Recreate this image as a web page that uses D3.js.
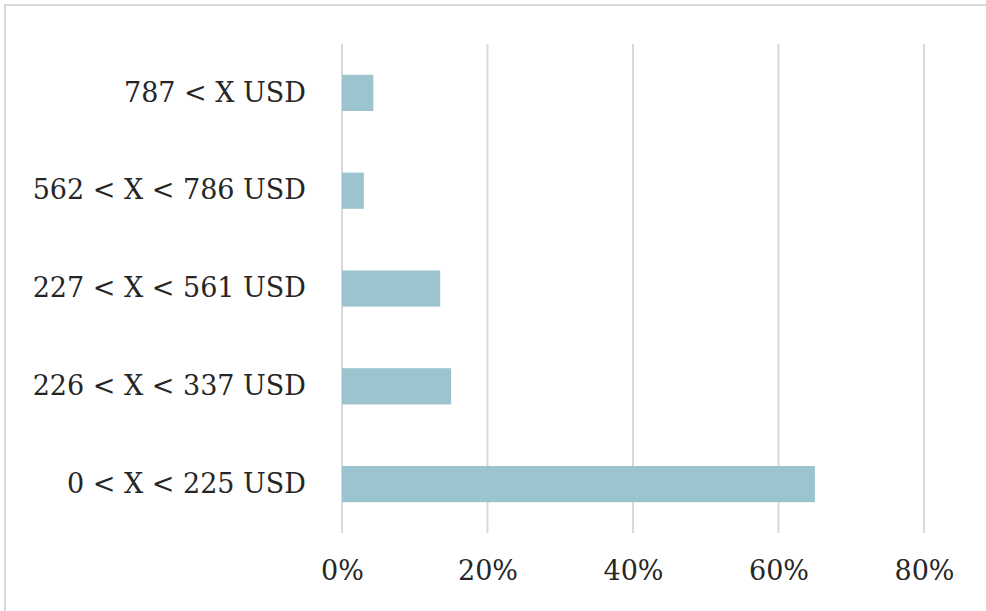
<!DOCTYPE html>
<html>
<head>
<meta charset="utf-8">
<script src="https://cdn.jsdelivr.net/npm/d3@7"></script>
<style>
  html, body { margin: 0; padding: 0; background: #ffffff; }
  svg { display: block; }
  text { font-family: "DejaVu Serif", "Liberation Serif", serif; fill: #262626; }
</style>
</head>
<body>
<svg id="chart" width="986" height="611"></svg>
<script>
// Income brackets, listed top to bottom
const categories = ["787 < X USD", "562 < X < 786 USD", "227 < X < 561 USD", "226 < X < 337 USD", "0 < X < 225 USD"];
// Share of respondents in each bracket (%)
const shares = [4.3, 3.0, 13.5, 15.0, 65.0];
// Horizontal axis ticks (%)
const tickValues = [0, 20, 40, 60, 80];

const svg = d3.select("#chart");
const W = 986, H = 611;
const labelFont = "'DejaVu Serif', 'Liberation Serif', serif";

// Outer frame
svg.append("rect")
  .attr("x", 5).attr("y", 5)
  .attr("width", W + 10).attr("height", H + 10)
  .attr("fill", "#ffffff")
  .attr("stroke", "#d9d9d9")
  .attr("stroke-width", 2);

const plot = { left: 342, right: 924, top: 44, bottom: 533 };

const x = d3.scaleLinear().domain([0, 80]).range([plot.left, plot.right]);
const y = d3.scaleBand().domain(categories).range([plot.top, plot.bottom])
  .paddingInner(0.63).paddingOuter(0.315);

// Vertical gridlines
svg.append("g")
  .selectAll("line")
  .data(tickValues)
  .join("line")
  .attr("x1", d => x(d)).attr("x2", d => x(d))
  .attr("y1", plot.top).attr("y2", plot.bottom)
  .attr("stroke", "#d9d9d9")
  .attr("stroke-width", 2);

// Bars
svg.append("g")
  .selectAll("rect")
  .data(categories)
  .join("rect")
  .attr("x", x(0))
  .attr("y", d => y(d))
  .attr("width", (d, i) => x(shares[i]) - x(0))
  .attr("height", y.bandwidth())
  .attr("fill", "#9bc4ce");

// Category labels
const yAxis = d3.axisLeft(y).tickSize(0).tickPadding(36);
const gy = svg.append("g")
  .attr("transform", `translate(${plot.left},0)`)
  .call(yAxis);
gy.select(".domain").remove();
gy.selectAll("text")
  .style("font-family", labelFont)
  .style("font-size", "27px")
  .attr("fill", "#262626");

// Percentage axis labels
const xAxis = d3.axisBottom(x).tickValues(tickValues).tickFormat(d => d + "%").tickSize(0).tickPadding(0);
const gx = svg.append("g")
  .attr("transform", `translate(0,${plot.bottom + 28})`)
  .call(xAxis);
gx.select(".domain").remove();
gx.selectAll("text")
  .style("font-family", labelFont)
  .style("font-size", "27px")
  .attr("fill", "#262626");
</script>
</body>
</html>
